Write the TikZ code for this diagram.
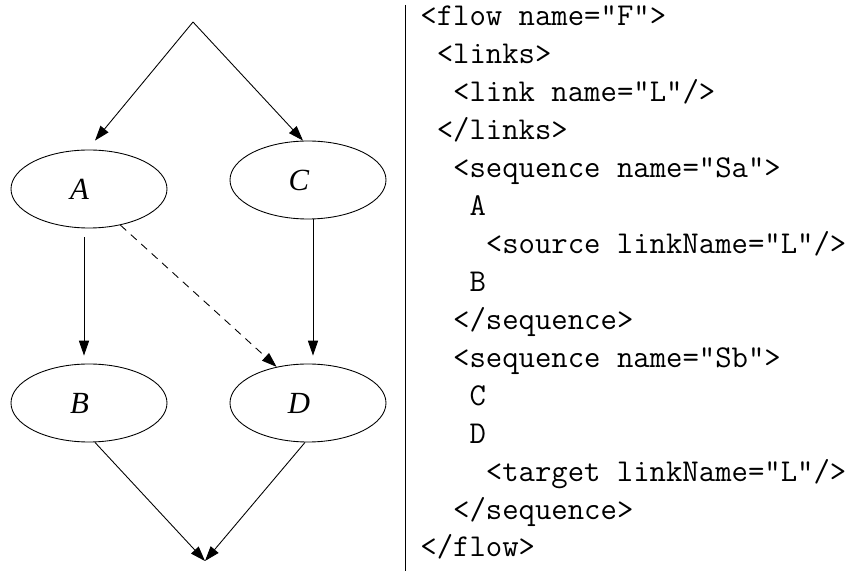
\documentclass[tikz,border=0pt]{standalone}
\usepackage{fontspec}
\newfontfamily\figfont{Liberation Serif}
\usepackage{tikz}
\usetikzlibrary{arrows.meta,shapes.geometric,calc}

\begin{document}
\begin{tikzpicture}[>={Triangle[length=8.5pt,width=5.8pt]}, line width=0.5pt]
		\tikzset{state/.style={draw, ellipse, minimum width=3.12cm, minimum height=1.56cm, inner sep=0pt, font=\figfont\itshape\fontsize{17.5}{20}\selectfont}}
		\tikzset{xml/.style={anchor=base west, inner sep=0pt, align=left, font=\ttfamily\fontsize{18.1}{21.6}\selectfont}}
		\useasboundingbox (0,0) rectangle (16.96,-11.44);
		\coordinate (top) at (3.86,-0.44);
		\coordinate (bot) at (4.10,-11.22);
		\node[state] (A) at (1.78,-3.78) {A\kern0.38cm};
		\node[state] (C) at (6.16,-3.60) {C\kern0.36cm};
		\node[state] (B) at (1.78,-8.06) {B\kern0.38cm};
		\node[state] (D) at (6.16,-8.06) {D\kern0.36cm};
		\draw[->] (top) -- ([shift={(0.12,0.18)}]A.north);
		\draw[->] (top) -- ([xshift=-0.1cm]C.north);
		\draw[->, shorten <=0.18cm, shorten >=0.16cm] ([xshift=-0.1cm]A.south) -- ([xshift=-0.1cm]B.north);
		\draw[->, shorten >=0.16cm] ([xshift=0.1cm]C.south) -- ([xshift=0.1cm]D.north);
		\draw[->, dash pattern=on 4.5pt off 3.5pt] (A.311) -- (D.131);
		\draw[->] ([xshift=0.12cm]B.south) -- (bot);
		\draw[->] ([xshift=-0.06cm]D.south) -- (bot);
		% separator between the graph and its BPEL text
		\draw (8.11,-0.10) -- (8.11,-11.42);
		% base of a multi-line node is its last line
		\node[xml] (code) at (8.40,-11.14) {<flow name="F">\\
			~<links>\\
			~~<link name="L"/>\\
			~</links>\\
			~~<sequence name="Sa">\\
			~~~A\\
			~~~~<source linkName="L"/>\\
			~~~B\\
			~~</sequence>\\
			~~<sequence name="Sb">\\
			~~~C\\
			~~~D\\
			~~~~<target linkName="L"/>\\
			~~</sequence>\\
			</flow>};
	\end{tikzpicture}
\end{document}
